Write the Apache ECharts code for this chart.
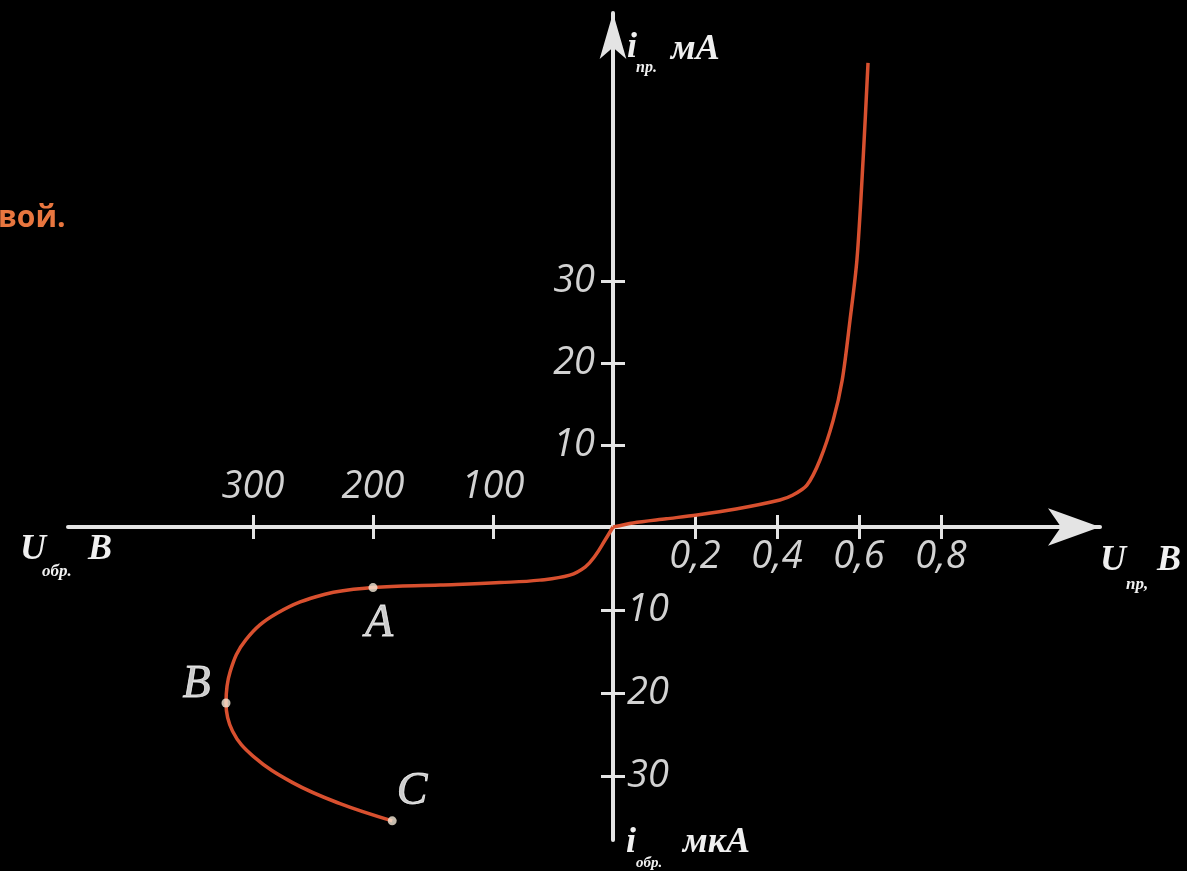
<!DOCTYPE html>
<html><head><meta charset="utf-8">
<script src="https://cdn.jsdelivr.net/npm/echarts@6/dist/echarts.min.js"></script>
<style>html,body{margin:0;padding:0;background:#000;}#c{width:1187px;height:871px;}</style>
</head><body><div id="c"></div>
<script>
// Forward branch: U_пр (V) vs i_пр (mA)
const fwdVoltage = [0, 0.049, 0.13, 0.205, 0.30, 0.407, 0.439, 0.473, 0.505, 0.537, 0.559, 0.578, 0.595, 0.610, 0.622];
const fwdCurrent = [0, 0.5, 1.0, 1.46, 2.2, 3.3, 3.9, 5.1, 8.2, 13.0, 17.9, 25.2, 32.6, 44.8, 56.6];
// Reverse branch: U_обр (V) vs i_обр (µA)
const revVoltage = [0, 6.7, 15, 23, 36, 61, 94, 144, 200, 240, 280, 306, 319, 322.5, 317, 300, 267, 228, 184];
const revCurrent = [0, 1.6, 3.5, 4.8, 5.8, 6.4, 6.7, 7.0, 7.3, 8.1, 10.4, 13.6, 17.4, 21.2, 24.6, 27.6, 30.8, 33.3, 35.4];
// Marked points
const markNames = ['A', 'B', 'C'];
const markVoltage = [200, 322.5, 184];
const markCurrent = [7.3, 21.2, 35.4];
// Ticks
const fwdVoltageTicks = [0.2, 0.4, 0.6, 0.8];
const fwdVoltageLabels = ['0,2', '0,4', '0,6', '0,8'];
const fwdCurrentTicks = [10, 20, 30];
const revVoltageTicks = [100, 200, 300];
const revCurrentTicks = [10, 20, 30];

const AX = '#e4e4e4';
const LBL = '#d2d2d2';
const labelFont = {color: LBL, fontFamily: 'Open Sans', fontStyle: 'italic', fontSize: 38, lineHeight: 40};
const nameFont = {fontFamily: 'Liberation Serif', fontStyle: 'italic', fontWeight: 'bold'};

function axisPair(base, ticks, labelOpt, lineOpt) {
  const main = Object.assign({}, base, {
    axisLine: Object.assign({show: true, onZero: false, lineStyle: {color: AX, width: 4}}, lineOpt || {}),
    axisTick: {show: true, customValues: ticks, inside: false, length: 12, lineStyle: {color: AX, width: 3}},
    axisLabel: Object.assign({show: true, customValues: ticks}, labelFont, labelOpt),
    splitLine: {show: false}
  });
  const dup = Object.assign({}, base, {
    axisLine: {show: false, onZero: false},
    axisTick: {show: true, customValues: ticks, inside: true, length: 12, lineStyle: {color: AX, width: 3}},
    axisLabel: {show: false},
    splitLine: {show: false}
  });
  return [main, dup];
}

const xAxes = [].concat(
  axisPair({gridIndex: 0, type: 'value', min: 0, max: 487 / 410, position: 'bottom'}, fwdVoltageTicks,
    {margin: 10, formatter: v => { const i = fwdVoltageTicks.indexOf(v); return i >= 0 ? fwdVoltageLabels[i] : String(v).replace('.', ','); }},
    {symbol: ['none', 'arrow'], symbolSize: [28, 52], symbolOffset: [0, 0]}),
  axisPair({gridIndex: 1, type: 'value', min: 0, max: 545 / 1.2, position: 'top', inverse: true}, revVoltageTicks,
    {margin: 20})
);
const yAxes = [].concat(
  axisPair({gridIndex: 0, type: 'value', min: 0, max: 514 / 8.2, position: 'left'}, fwdCurrentTicks,
    {margin: 18},
    {symbol: ['none', 'arrow'], symbolSize: [20, 46], symbolOffset: [0, 0]}),
  axisPair({gridIndex: 1, type: 'value', min: 0, max: 313 / 8.3, position: 'right', inverse: true}, revCurrentTicks,
    {margin: 14})
);

const markLabelPos = [
  {position: 'bottom', offset: [6, 4]},
  {position: 'left', offset: [-6, -18]},
  {position: 'top', offset: [20, 4]}
];

function txt(text, x, y, size, extra) {
  return {type: 'text', z: 100, style: Object.assign({text: text, x: x, y: y, fill: '#f0f0f0', fontSize: size,
    textAlign: 'left', textVerticalAlign: 'middle'}, nameFont, extra || {})};
}

const chart = echarts.init(document.getElementById('c'));
chart.setOption({
  backgroundColor: '#000',
  animation: false,
  grid: [
    {left: 613, top: 13, width: 487, height: 514, containLabel: false},
    {left: 68, top: 527, width: 545, height: 313, containLabel: false}
  ],
  xAxis: xAxes,
  yAxis: yAxes,
  series: [
    {type: 'line', xAxisIndex: 0, yAxisIndex: 0, smooth: 0.3, showSymbol: false, z: 5,
      lineStyle: {color: '#d8502f', width: 3.5},
      data: fwdVoltage.map((v, i) => [v, fwdCurrent[i]])},
    {type: 'line', xAxisIndex: 2, yAxisIndex: 2, smooth: 0.4, showSymbol: false, z: 5,
      lineStyle: {color: '#d8502f', width: 3.5},
      data: revVoltage.map((v, i) => [v, revCurrent[i]])},
    {type: 'scatter', xAxisIndex: 2, yAxisIndex: 2, symbolSize: 9, z: 6,
      itemStyle: {color: '#f6ead8'},
      label: {show: true, formatter: p => p.name, color: '#ffffff', textBorderColor: '#ffffff', textBorderWidth: 0.8,
        fontFamily: 'Liberation Serif', fontStyle: 'italic', fontSize: 46},
      data: markNames.map((n, i) => ({name: n, value: [markVoltage[i], markCurrent[i]], label: markLabelPos[i]}))}
  ],
  graphic: [
    txt('i', 627, 48, 36),
    txt('пр.', 636, 68, 16),
    txt('мА', 671, 50, 36),
    txt('U', 20, 550, 36),
    txt('обр.', 42, 572, 17),
    txt('В', 88, 550, 36),
    txt('U', 1100, 561, 36),
    txt('пр,', 1126, 585, 17),
    txt('В', 1157, 561, 36),
    txt('i', 626, 843, 36),
    txt('обр.', 636, 863, 15),
    txt('мкА', 683, 843, 36),
    {type: 'text', z: 100, style: {text: 'вой.', x: -2, y: 218, fill: '#e8763f', fontSize: 30, fontWeight: 'bold',
      fontFamily: 'Open Sans', textAlign: 'left', textVerticalAlign: 'middle'}}
  ]
});
</script>
</body></html>
